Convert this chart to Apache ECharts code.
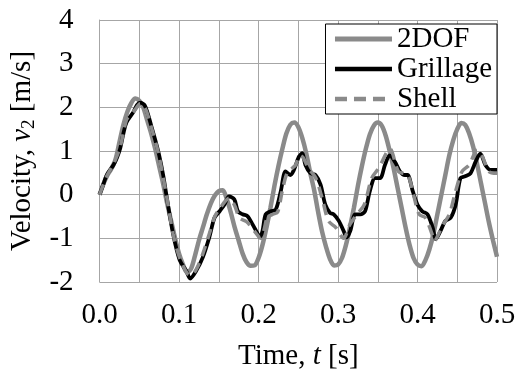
<!DOCTYPE html>
<html>
<head>
<meta charset="utf-8">
<script src="https://cdn.jsdelivr.net/npm/echarts@6/dist/echarts.min.js"></script>
<style>html,body{margin:0;padding:0;background:#fff}#c{width:519px;height:376px}</style>
</head>
<body>
<div id="c"></div>
<script>
// ---- data ----
var seriesNames = ['2DOF', 'Grillage', 'Shell'];
var xTicks = [0.0, 0.1, 0.2, 0.3, 0.4, 0.5];
var yTicks = [-2, -1, 0, 1, 2, 3, 4];

var t2dof = [0,0.005,0.01,0.015,0.02,0.025,0.03,0.035,0.04,0.045,0.05,0.055,0.06,0.065,0.07,0.075,0.08,0.085,0.09,0.095,
  0.1,0.105,0.11,0.115,0.12,0.125,0.13,0.135,0.14,0.145,0.15,0.155,0.16,0.165,0.17,0.175,0.18,0.185,0.19,0.195,
  0.2,0.205,0.21,0.215,0.22,0.225,0.23,0.235,0.24,0.245,0.25,0.255,0.26,0.265,0.27,0.275,0.28,0.285,0.29,0.295,
  0.3,0.305,0.31,0.315,0.32,0.325,0.33,0.335,0.34,0.345,0.35,0.355,0.36,0.365,0.37,0.375,0.38,0.385,0.39,0.395,
  0.4,0.405,0.41,0.415,0.42,0.425,0.43,0.435,0.44,0.445,0.45,0.455,0.46,0.465,0.47,0.475,0.48,0.485,0.49,0.495,0.5];
var v2dof = [0,0.25,0.45,0.6,0.8,1.2,1.6,1.9,2.1,2.2,2.15,2.0,1.7,1.4,1.05,0.65,0.25,-0.2,-0.6,-1.0,
  -1.35,-1.6,-1.78,-1.7,-1.4,-1.05,-0.75,-0.45,-0.2,-0.02,0.08,0.1,-0.1,-0.4,-0.75,-1.05,-1.35,-1.55,-1.63,-1.62,
  -1.45,-1.15,-0.75,-0.3,0.2,0.65,1.05,1.4,1.6,1.65,1.55,1.3,0.95,0.5,0.1,-0.4,-0.85,-1.2,-1.48,-1.62,
  -1.6,-1.45,-1.15,-0.75,-0.3,0.2,0.65,1.05,1.38,1.58,1.65,1.58,1.35,1.0,0.6,0.15,-0.3,-0.75,-1.15,-1.45,
  -1.6,-1.64,-1.5,-1.25,-0.9,-0.45,0.0,0.45,0.9,1.25,1.5,1.64,1.6,1.4,1.1,0.7,0.25,-0.2,-0.65,-1.05,-1.42];

var tGrillage = [0,0.005,0.009,0.0175,0.022,0.026,0.03,0.034,0.0425,0.047,0.051,0.057,0.065,0.074,0.08,0.084,0.0925,0.1008,0.109,0.114,
  0.1217,0.13,0.138,0.1446,0.151,0.157,0.163,0.1696,0.174,0.18,0.186,0.1925,0.199,0.2017,0.205,0.209,0.2154,0.2217,0.228,0.234,
  0.24,0.2446,0.2508,0.255,0.259,0.2654,0.2717,0.278,0.284,0.29,0.2946,0.301,0.307,0.311,0.3154,0.3217,0.328,0.334,0.34,0.3467,
  0.353,0.359,0.365,0.3717,0.378,0.384,0.3875,0.394,0.4,0.406,0.4125,0.419,0.423,0.429,0.435,0.4417,0.448,0.454,0.46,0.4667,
  0.473,0.479,0.4854,0.4917,0.5];
var vGrillage = [0,0.25,0.45,0.68,0.85,1.06,1.4,1.66,1.89,2.05,2.11,2.04,1.58,0.98,0.45,0.0,-0.9,-1.5,-1.74,-1.92,
  -1.74,-1.43,-0.98,-0.53,-0.38,-0.23,-0.04,-0.11,-0.38,-0.45,-0.49,-0.68,-0.9,-0.98,-0.83,-0.45,-0.38,-0.34,0.08,0.53,
  0.45,0.57,0.87,0.95,0.68,0.49,0.45,0.23,-0.23,-0.42,-0.45,-0.6,-0.83,-0.98,-0.83,-0.45,-0.45,-0.38,0.08,0.38,
  0.38,0.68,0.9,0.75,0.53,0.45,0.45,0.08,-0.23,-0.38,-0.45,-0.75,-1.02,-0.83,-0.6,-0.53,-0.23,0.38,0.42,0.49,
  0.75,0.94,0.68,0.57,0.57];

var tShell = [0,0.009,0.0175,0.026,0.034,0.04,0.045,0.051,0.057,0.065,0.074,0.084,0.0925,0.1008,0.11,0.115,0.122,0.13,0.138,0.145,
  0.152,0.158,0.163,0.17,0.176,0.185,0.1946,0.203,0.207,0.211,0.218,0.224,0.23,0.236,0.242,0.2467,0.252,0.256,0.263,0.272,
  0.28,0.288,0.297,0.307,0.315,0.324,0.333,0.3425,0.351,0.3654,0.376,0.3875,0.395,0.402,0.41,0.419,0.421,0.431,0.44,0.448,
  0.456,0.465,0.475,0.481,0.49,0.5];
var vShell = [0,0.42,0.7,1.1,1.72,1.85,1.95,2.08,2.0,1.55,0.95,0.0,-0.9,-1.45,-1.8,-1.85,-1.7,-1.35,-0.9,-0.5,
  -0.3,-0.15,-0.08,-0.25,-0.53,-0.62,-0.83,-1.0,-0.8,-0.53,-0.45,-0.4,0.1,0.5,0.6,0.68,0.9,0.85,0.6,0.38,
  -0.08,-0.6,-0.75,-1.0,-0.68,-0.45,-0.23,0.38,0.6,1.05,0.53,0.45,0.0,-0.45,-0.53,-0.94,-1.06,-0.72,-0.45,0.08,
  0.53,0.68,1.02,0.9,0.53,0.49];

function pairs(t, v) { return t.map(function (x, i) { return [x, v[i]]; }); }

var FONT = 'Liberation Serif';
var FS = 29;
var GREY = '#8a8a8a';
var chart = echarts.init(document.getElementById('c'), null, {renderer: 'canvas'});
chart.setOption({
  animation: false,
  backgroundColor: '#fff',
  grid: {left: 97, right: 22, top: 20, bottom: 92, containLabel: false},
  legend: {
    data: [
      {name: seriesNames[0], lineStyle: {color: GREY, width: 5}},
      {name: seriesNames[1], lineStyle: {color: '#000', width: 4.5}},
      {name: seriesNames[2], lineStyle: {color: GREY, width: 4.5, type: [12, 7]}}
    ],
    orient: 'vertical',
    right: 22, top: 24,
    backgroundColor: '#fff',
    borderColor: '#000', borderWidth: 1,
    padding: [0, 5, 0, 7],
    itemWidth: 57, itemHeight: 8, itemGap: 0,
    itemStyle: {color: 'rgba(0,0,0,0)', borderWidth: 0, opacity: 0},
    textStyle: {fontFamily: FONT, fontSize: FS, color: '#000', lineHeight: 30}
  },
  xAxis: {
    type: 'value', min: 0, max: 0.5, interval: 0.05,
    name: '{n|Time, }{i|t}{n| [s]}',
    nameLocation: 'middle', nameGap: 60,
    nameTextStyle: {rich: {
      n: {fontFamily: FONT, fontSize: FS, color: '#000'},
      i: {fontFamily: FONT, fontSize: FS, color: '#000', fontStyle: 'italic'}
    }},
    axisLine: {show: true, lineStyle: {color: '#a6a6a6', width: 1}},
    axisTick: {show: false},
    splitLine: {show: true, lineStyle: {color: '#a6a6a6', width: 1}},
    axisLabel: {
      fontFamily: FONT, fontSize: FS, color: '#000', margin: 19,
      formatter: function (v) {
        for (var k = 0; k < xTicks.length; k++) { if (Math.abs(v - xTicks[k]) < 1e-9) return xTicks[k].toFixed(1); }
        return '';
      }
    }
  },
  yAxis: {
    type: 'value', min: -2, max: 4, interval: 1,
    name: '{n|Velocity, }{i|v}{s|2}{n| [m/s]}',
    nameLocation: 'middle', nameGap: 55,
    nameTextStyle: {rich: {
      n: {fontFamily: FONT, fontSize: FS, color: '#000', lineHeight: 32},
      i: {fontFamily: FONT, fontSize: FS, color: '#000', fontStyle: 'italic', lineHeight: 32},
      s: {fontFamily: FONT, fontSize: 19, color: '#000', lineHeight: 32, verticalAlign: 'bottom', padding: [11, 0, 0, 0]}
    }},
    axisLine: {show: true, lineStyle: {color: '#a6a6a6', width: 1}},
    axisTick: {show: false},
    splitLine: {show: true, lineStyle: {color: '#a6a6a6', width: 1}},
    axisLabel: {
      fontFamily: FONT, fontSize: FS, color: '#000', margin: 26,
      formatter: function (v) { return yTicks.indexOf(Math.round(v)) >= 0 ? String(Math.round(v)) : ''; }
    }
  },
  series: [
    {name: seriesNames[0], type: 'line', data: pairs(t2dof, v2dof), smooth: 0.3, symbol: 'none',
     lineStyle: {color: GREY, width: 4.5}, itemStyle: {color: GREY}, z: 2},
    {name: seriesNames[1], type: 'line', data: pairs(tGrillage, vGrillage), smooth: 0.3, symbol: 'none',
     lineStyle: {color: '#000', width: 3.8}, itemStyle: {color: '#000'}, z: 3},
    {name: seriesNames[2], type: 'line', data: pairs(tShell, vShell), smooth: 0.3, symbol: 'none',
     lineStyle: {color: GREY, width: 3.5, type: [11, 7]}, itemStyle: {color: GREY}, z: 4}
  ]
});
</script>
</body>
</html>
